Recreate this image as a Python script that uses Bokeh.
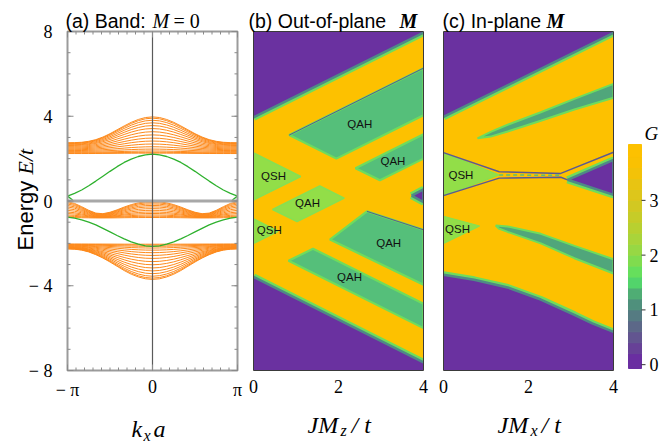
import numpy as np
from bokeh.plotting import figure
from bokeh.models import Label, Range1d
from bokeh.embed import file_html
from bokeh.resources import INLINE

# ======================= DATA =======================
# (a) ribbon bands at M = 0; k in units of pi, half zone [0, pi] (mirrored)
k_frac = [0.0, 1/12, 2/12, 3/12, 4/12, 5/12, 6/12, 7/12, 8/12, 9/12, 10/12, 11/12, 1.0]
prof_upper = [1.0, 0.975, 0.90, 0.79, 0.65, 0.50, 0.35, 0.22, 0.12, 0.055, 0.017, 0.004, 0.0]
prof_lower = [1.0, 0.98, 0.92, 0.83, 0.71, 0.57, 0.43, 0.30, 0.19, 0.10, 0.04, 0.01, 0.0]
prof_mid_dip = [0.0, 0.02, 0.10, 0.25, 0.45, 0.68, 0.88, 1.0, 0.95, 0.72, 0.42, 0.15, 0.0]
up_k0 = [2.26, 2.30, 2.36, 2.45, 2.56, 2.69, 2.83, 2.97, 3.12, 3.27, 3.42, 3.56, 3.69, 3.81, 3.91, 3.97]
up_kpi = [2.24, 2.27, 2.30, 2.34, 2.38, 2.42, 2.46, 2.50, 2.54, 2.58, 2.62, 2.65, 2.68, 2.71, 2.73, 2.75]
mid_base = [-0.03, -0.08, -0.14, -0.21, -0.28, -0.36, -0.44, -0.52, -0.59, -0.66, -0.72, -0.78]
mid_pinch = [-0.60, -0.62, -0.64, -0.66, -0.68, -0.70, -0.72, -0.74, -0.75, -0.77, -0.78, -0.80]
lo_k0 = [-2.04, -2.08, -2.14, -2.22, -2.32, -2.44, -2.57, -2.71, -2.86, -3.01, -3.16, -3.30, -3.43, -3.55, -3.64, -3.70]
lo_kpi = [-2.03, -2.05, -2.07, -2.09, -2.11, -2.13, -2.15, -2.17, -2.19, -2.20, -2.21, -2.22, -2.23, -2.24, -2.25, -2.26]
edge_upper = [2.21, 2.18, 2.10, 1.98, 1.82, 1.62, 1.40, 1.17, 0.94, 0.72, 0.52, 0.36, 0.23]
edge_lower = [-2.14, -2.12, -2.04, -1.93, -1.79, -1.63, -1.46, -1.29, -1.13, -1.00, -0.89, -0.81, -0.76]
edge_stub_k = [1.0, 0.94]
edge_stub_e = [0.23, 0.05]

ka_ticks = [-1, 0, 1]
ka_labels = ["− π", "0", "π"]
ka_minor = [i / 10 for i in range(-10, 11)]
e_ticks = [-8, -4, 0, 4, 8]
e_labels = ["− 8", "− 4", "0", "4", "8"]
e_minor = list(range(-8, 9))
jm_ticks = [0, 2, 4]
jm_labels = ["0", "2", "4"]
g_ticks = [0, 1, 2, 3]
g_labels = ["0", "1", "2", "3"]

# (b) out-of-plane M: regions (JM_z/t, E/t)
b_pur_top_x = [0, 0, 4, 4];            b_pur_top_y = [3.95, 8, 8, 7.95]
b_pur_bot_x = [0, 4, 4, 0];            b_pur_bot_y = [-3.58, -7.62, -8, -8]
b_pur_tri_x = [3.72, 4, 4];            b_pur_tri_y = [0.25, 0.55, -0.05]
b_qah_big_x = [0.84, 4, 4, 1.95];      b_qah_big_y = [3.11, 6.27, 4.05, 2.0]
b_qah_r_x = [2.4, 4, 4, 2.975];        b_qah_r_y = [1.55, 3.15, 2.0, 0.975]
b_qah_lr_x = [1.80, 2.67, 4, 4];       b_qah_lr_y = [-1.82, -0.49, -1.36, -3.95]
b_qah_lo_x = [0.825, 1.4, 4, 4];       b_qah_lo_y = [-2.825, -2.25, -4.85, -6.0]
b_qsh_up_x = [0, 1.11, 0];             b_qsh_up_y = [2.27, 1.16, 0.05]
b_qsh_lo_x = [0, 0.575, 0];            b_qsh_lo_y = [-0.85, -1.425, -2.0]
b_qah2_x = [0.45, 1.56, 2.135, 1.025]; b_qah2_y = [-0.40, 0.71, 0.135, -0.975]
b_thin1_x = [0.84, 4];                 b_thin1_y = [3.11, 6.27]
b_thin2_x = [2.67, 4];                 b_thin2_y = [-0.49, -1.36]
b_lab_text = ["QAH", "QAH", "QSH", "QAH", "QSH", "QAH", "QAH"]
b_lab_x = [2.50, 3.28, 0.47, 1.27, 0.37, 3.18, 2.26]
b_lab_y = [3.63, 1.89, 1.16, -0.10, -1.39, -1.96, -3.60]

# (c) in-plane M: regions (JM_x/t, E/t)
c_pur_top_x = [0, 0, 4, 4];            c_pur_top_y = [3.97, 8, 8, 7.93]
c_pur_bot_x = [0, 0.72, 1.51, 2.29, 3.08, 3.5, 4, 4, 0]
c_pur_bot_y = [-3.48, -3.72, -4.08, -4.65, -5.37, -5.78, -6.18, -8, -8]
c_pur_tri_x = [2.92, 4, 4];            c_pur_tri_y = [1.0, 1.94, 0.29]
c_sl_up_x = [0.80, 1.11, 1.51, 2.29, 3.08, 4.0, 4.0, 3.08, 2.29, 1.51, 1.11]
c_sl_up_y = [2.96, 3.26, 3.60, 4.19, 4.82, 5.53, 4.87, 4.32, 3.79, 3.28, 3.04]
c_sl_lo_x = [1.23, 1.51, 2.29, 3.08, 4.0, 4.0, 3.08, 2.29, 1.51, 1.30]
c_sl_lo_y = [-1.16, -1.20, -1.55, -2.12, -2.75, -3.42, -2.70, -2.00, -1.46, -1.30]
c_qsh_up_x = [0, 1.31, 0];             c_qsh_up_y = [2.27, 1.23, 0.25]
c_qsh_lo_x = [0, 0.85, 0];             c_qsh_lo_y = [-0.72, -1.18, -2.0]
c_line_up_x = [0, 1.31, 2.76, 4];      c_line_up_y = [2.28, 1.38, 1.30, 2.30]
c_line_lo_x = [0, 1.31, 2.76, 2.92];   c_line_lo_y = [0.25, 1.08, 1.12, 1.0]
c_neck_x = [1.31, 2.76];               c_neck_y = [1.23, 1.21]
c_lab_text = ["QSH", "QSH"]
c_lab_x = [0.41, 0.33]
c_lab_y = [1.23, -1.32]

# colour bar of G
cb_bottom = [-0.07, 0.2, 0.4, 0.6, 0.8, 1.0, 1.2, 1.4, 1.6, 1.8, 2.0, 2.2, 2.4, 2.6, 2.8, 3.0, 3.2, 3.4, 3.6, 3.8]
cb_top = cb_bottom[1:] + [4.02]
cb_colors = ["#6a2ea1", "#674197", "#625590", "#5c6888", "#557b82", "#4f907c", "#4fad74", "#52d46b",
             "#66df5c", "#80dc4e", "#97d844", "#a9d43a", "#b8d030", "#c6cc28", "#d2c822", "#ddc61b",
             "#e8c412", "#f3c208", "#fac102", "#fdc100"]

# ======================= LAYOUT / STYLE =======================
W, H = 660, 443
PA = (67, 237)          # panel (a) pixel columns
PB = (253, 423)         # panel (b)
PC = (443, 613)         # panel (c)
PCB = (628, 641)        # colour bar
PT, PBOT = 31, 370      # panel rows
CBT, CBB = 144, 368     # colour-bar rows
KA = (-1, 1)
JM = (0, 4)
EL = (-8, 8)
GL = (-0.07, 4.02)

ORANGE = "#fd8a1c"
GREEN = "#2eb12e"
PURPLE = "#6a31a0"
YELLOW = "#fdc100"
QAH1 = "#55bf7a"
QSH2 = "#92de48"
SLIVER = "#50a67b"
FR_BRIGHT = "#6fdc5c"
FR_TEAL = "#4f8a86"
THIN = "#5b5a92"
SERIF = "Liberation Serif"
SANS = "Liberation Sans"


def xrange_for(px, d):
    s = (d[1] - d[0]) / (px[1] - px[0])
    return Range1d(d[0] - px[0] * s, d[0] + (W - px[0]) * s)


def yrange_for(top, bot, d):
    s = (d[1] - d[0]) / (bot - top)
    return Range1d(d[0] - (H - bot) * s, d[1] + top * s)


p = figure(width=W, height=H, x_range=Range1d(0, W), y_range=Range1d(H, 0),
           x_axis_location=None, y_axis_location=None, min_border=0,
           output_backend="svg", toolbar_location=None)
p.outline_line_color = None
p.background_fill_color = "white"
p.border_fill_color = "white"
p.grid.visible = False
p.extra_x_ranges = {"ka": xrange_for(PA, KA), "jb": xrange_for(PB, JM),
                    "jc": xrange_for(PC, JM), "cb": xrange_for(PCB, (0, 1))}
p.extra_y_ranges = {"E": yrange_for(PT, PBOT, EL), "G": yrange_for(CBT, CBB, GL)}


def lab(x, y, text, font, size, style="normal", align="left", baseline="alphabetic",
        angle=0.0, color="#000000", xr="default", yr="default", xo=0, yo=0):
    p.add_layout(Label(x=x, y=y, text=text, text_font=font, text_font_size=size,
                       text_font_style=style, text_align=align, text_baseline=baseline,
                       angle=angle, text_color=color, x_range_name=xr, y_range_name=yr,
                       x_offset=xo, y_offset=yo))


# ======================= PANEL (a) =======================
kk = [-f for f in reversed(k_frac)] + list(k_frac[1:])


def mirror_v(v):
    return list(reversed(v)) + list(v[1:])


xs, ys = [], []
for e0, ep in zip(up_k0, up_kpi):
    xs.append(kk)
    ys.append(mirror_v([ep + (e0 - ep) * s for s in prof_upper]))
for b0, pn in zip(mid_base, mid_pinch):
    xs.append(kk)
    ys.append(mirror_v([b0 + (pn - b0) * s for s in prof_mid_dip]))
for e0, ep in zip(lo_k0, lo_kpi):
    xs.append(kk)
    ys.append(mirror_v([ep + (e0 - ep) * s for s in prof_lower]))
A = dict(x_range_name="ka", y_range_name="E")
p.multi_line(xs, ys, line_color=ORANGE, line_width=1.0, **A)
p.line(kk, mirror_v(edge_upper), line_color=GREEN, line_width=1.3, **A)
p.line(kk, mirror_v(edge_lower), line_color=GREEN, line_width=1.3, **A)
p.line([-k for k in edge_stub_k], edge_stub_e, line_color=GREEN, line_width=1.3, **A)
p.line(edge_stub_k, edge_stub_e, line_color=GREEN, line_width=1.3, **A)
p.segment(x0=[KA[0]], y0=[0], x1=[KA[1]], y1=[0], line_color="#a8a8a8", line_width=3, **A)
p.segment(x0=[0], y0=[EL[0]], x1=[0], y1=[EL[1]], line_color="#5a5a5a", line_width=1.2, **A)


# ======================= MAP PANELS =======================
def purple_region(R, px, py, bx, by):
    p.line(bx, by, line_color=FR_BRIGHT, line_width=7, **R)
    p.patch(px, py, fill_color=PURPLE, line_color=None, **R)
    p.line(bx, by, line_color=FR_TEAL, line_width=2.5, **R)


def green_region(R, px, py, color, fringe, width=2.2):
    p.patch(px, py, fill_color=color, line_color=fringe, line_width=width, **R)


B = dict(x_range_name="jb", y_range_name="E")
C = dict(x_range_name="jc", y_range_name="E")
for R in (B, C):
    p.quad(left=[JM[0]], right=[JM[1]], bottom=[EL[0]], top=[EL[1]],
           fill_color=YELLOW, line_color=None, **R)

purple_region(B, b_pur_top_x, b_pur_top_y, [b_pur_top_x[0], b_pur_top_x[-1]], [b_pur_top_y[0], b_pur_top_y[-1]])
purple_region(B, b_pur_bot_x, b_pur_bot_y, b_pur_bot_x[:2], b_pur_bot_y[:2])
purple_region(B, b_pur_tri_x, b_pur_tri_y, b_pur_tri_x + b_pur_tri_x[:1], b_pur_tri_y + b_pur_tri_y[:1])
for px, py in ((b_qah_big_x, b_qah_big_y), (b_qah_r_x, b_qah_r_y),
               (b_qah_lr_x, b_qah_lr_y), (b_qah_lo_x, b_qah_lo_y)):
    green_region(B, px, py, QAH1, FR_BRIGHT)
for px, py in ((b_qsh_up_x, b_qsh_up_y), (b_qsh_lo_x, b_qsh_lo_y), (b_qah2_x, b_qah2_y)):
    green_region(B, px, py, QSH2, "#86e052", 1.6)
p.line(b_thin1_x, b_thin1_y, line_color=THIN, line_width=1, **B)
p.line(b_thin2_x, b_thin2_y, line_color=THIN, line_width=1, **B)

purple_region(C, c_pur_top_x, c_pur_top_y, [c_pur_top_x[0], c_pur_top_x[-1]], [c_pur_top_y[0], c_pur_top_y[-1]])
purple_region(C, c_pur_bot_x, c_pur_bot_y, c_pur_bot_x[:7], c_pur_bot_y[:7])
purple_region(C, c_pur_tri_x, c_pur_tri_y, c_pur_tri_x + c_pur_tri_x[:1], c_pur_tri_y + c_pur_tri_y[:1])
green_region(C, c_sl_up_x, c_sl_up_y, SLIVER, FR_BRIGHT, 2.0)
green_region(C, c_sl_lo_x, c_sl_lo_y, SLIVER, FR_BRIGHT, 2.0)
green_region(C, c_qsh_up_x, c_qsh_up_y, QSH2, "#86e052", 1.2)
green_region(C, c_qsh_lo_x, c_qsh_lo_y, QSH2, "#86e052", 1.2)
p.line(c_neck_x, c_neck_y, line_color="#5cc070", line_width=1.5, line_dash="4 3", **C)
p.line(c_line_up_x, c_line_up_y, line_color=THIN, line_width=1.4, **C)
p.line(c_line_lo_x, c_line_lo_y, line_color=THIN, line_width=1.4, **C)

# white margins around the map panels (hide fringe line caps outside the frames)
p.quad(left=[PA[1] + 3, PB[1], PC[1], PB[0], PB[0]], right=[PB[0], PC[0], PCB[0], PC[1], PC[1]],
       top=[0, 0, 0, 0, PBOT], bottom=[H, H, H, PT, H], fill_color="white", line_color=None)

# ======================= COLOUR BAR =======================
CBR = dict(x_range_name="cb", y_range_name="G")
p.quad(left=0, right=1, bottom=cb_bottom, top=cb_top, fill_color=cb_colors, line_color=cb_colors, **CBR)
p.segment(x0=[1] * len(g_ticks), y0=g_ticks, x1=[1 + 4 / 13] * len(g_ticks), y1=g_ticks,
          line_color="#333333", line_width=1, **CBR)
for g, s in zip(g_ticks, g_labels):
    lab(1, g, s, SERIF, "18px", baseline="middle", xr="cb", yr="G", xo=8)
lab(644, 133, "G", SERIF, "19px", style="italic", baseline="middle")

# ======================= FRAMES & TICKS =======================
p.quad(left=[KA[0]], right=[KA[1]], bottom=[EL[0]], top=[EL[1]], fill_color=None,
       line_color="#9b9b9b", line_width=2, **A)
for R in (B, C):
    p.quad(left=[JM[0]], right=[JM[1]], bottom=[EL[0]], top=[EL[1]], fill_color=None,
           line_color="#3a3a3a", line_width=1, **R)

# inner ticks of panel (a) on all four sides (lengths in px converted to data)
kpx = (KA[1] - KA[0]) / (PA[1] - PA[0])
epx = (EL[1] - EL[0]) / (PBOT - PT)
for vals, ln in ((e_minor, 3), (e_ticks, 6)):
    n = len(vals)
    p.segment(x0=[KA[0]] * n, y0=vals, x1=[KA[0] + ln * kpx] * n, y1=vals, line_color="#8a8a8a", **A)
    p.segment(x0=[KA[1]] * n, y0=vals, x1=[KA[1] - ln * kpx] * n, y1=vals, line_color="#8a8a8a", **A)
for vals, ln in ((ka_minor, 3), (ka_ticks, 6)):
    n = len(vals)
    p.segment(x0=vals, y0=[EL[0]] * n, x1=vals, y1=[EL[0] + ln * epx] * n, line_color="#8a8a8a", **A)
    p.segment(x0=vals, y0=[EL[1]] * n, x1=vals, y1=[EL[1] - ln * epx] * n, line_color="#8a8a8a", **A)

# tick labels
for v, s in zip(e_ticks, e_labels):
    lab(KA[0], v, s, SERIF, "18px", align="right", baseline="middle", xr="ka", yr="E", xo=-15)
for v, s in zip(ka_ticks, ka_labels):
    lab(v, EL[0], s, SERIF, "18px", align="center", baseline="top", xr="ka", yr="E", yo=-9)
for rn in ("jb", "jc"):
    for v, s in zip(jm_ticks, jm_labels):
        lab(v, EL[0], s, SERIF, "18px", align="center", baseline="top", xr=rn, yr="E", yo=-9)

# region labels
for t, x, y in zip(b_lab_text, b_lab_x, b_lab_y):
    lab(x, y, t, SANS, "11.5px", align="center", baseline="middle", color="#111111", xr="jb", yr="E")
for t, x, y in zip(c_lab_text, c_lab_x, c_lab_y):
    lab(x, y, t, SANS, "11.5px", align="center", baseline="middle", color="#111111", xr="jc", yr="E")

# ======================= TITLES & AXIS TITLES =======================
lab(65, 20, "(a) Band:", SANS, "19.5px")
lab(152, 20, "M", SERIF, "20px", style="italic")
lab(173, 20, "= 0", SERIF, "20px")
lab(248, 20, "(b) Out-of-plane", SANS, "19.5px")
lab(399, 20, "M", SERIF, "20px", style="bold italic")
lab(442, 20, "(c) In-plane", SANS, "19.5px")
lab(546, 20, "M", SERIF, "20px", style="bold italic")

lab(25, 250, "Energy", SANS, "22px", angle=np.pi / 2)
lab(25, 174, "E/t", SERIF, "22px", style="italic", angle=np.pi / 2)

lab(131, 428, "k", SERIF, "24px", style="italic")
lab(143, 435, "x", SERIF, "16px", style="italic")
lab(153, 428, "a", SERIF, "24px", style="italic")
lab(307, 424, "JM", SERIF, "24px", style="italic")
lab(340, 430, "z", SERIF, "16px", style="italic")
lab(351, 424, "/ t", SERIF, "24px", style="italic")
lab(497, 424, "JM", SERIF, "24px", style="italic")
lab(530, 430, "x", SERIF, "16px", style="italic")
lab(541, 424, "/ t", SERIF, "24px", style="italic")

open("out.html", "w").write(file_html(p, INLINE))
